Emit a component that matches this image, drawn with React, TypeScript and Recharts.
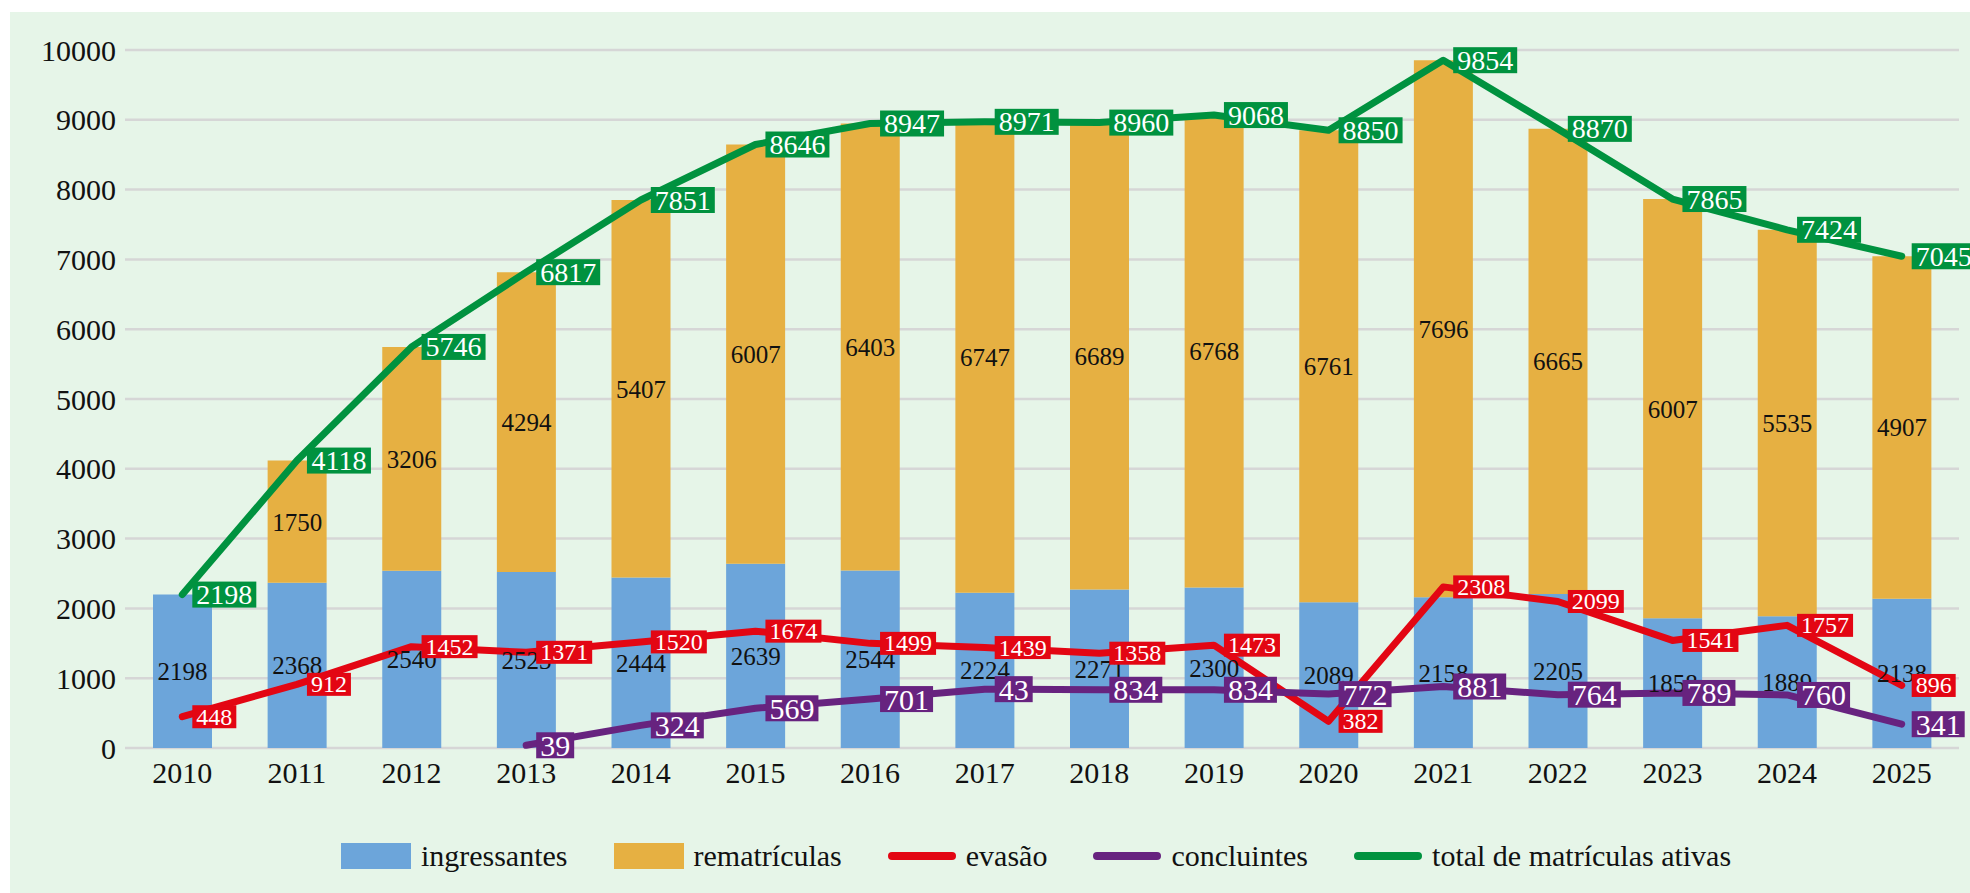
import React from 'react';
import { ComposedChart, Bar, Line, XAxis, YAxis, CartesianGrid, LabelList } from 'recharts';

const anos = ['2010', '2011', '2012', '2013', '2014', '2015', '2016', '2017', '2018', '2019', '2020', '2021', '2022', '2023', '2024', '2025'];
const ingressantes = [2198, 2368, 2540, 2523, 2444, 2639, 2544, 2224, 2271, 2300, 2089, 2158, 2205, 1858, 1889, 2138];
const rematriculas = [null, 1750, 3206, 4294, 5407, 6007, 6403, 6747, 6689, 6768, 6761, 7696, 6665, 6007, 5535, 4907];
const evasao = [448, 912, 1452, 1371, 1520, 1674, 1499, 1439, 1358, 1473, 382, 2308, 2099, 1541, 1757, 896];
const concluintes = [null, null, null, 39, 324, 569, 701, 843, 834, 834, 772, 881, 764, 789, 760, 341];
// rótulos como aparecem no gráfico original (2017 mostra só "43")
const concluintesRotulos = ['', '', '', '39', '324', '569', '701', '43', '834', '834', '772', '881', '764', '789', '760', '341'];
const totalAtivas = [2198, 4118, 5746, 6817, 7851, 8646, 8947, 8971, 8960, 9068, 8850, 9854, 8870, 7865, 7424, 7045];
const yTicks = [0, 1000, 2000, 3000, 4000, 5000, 6000, 7000, 8000, 9000, 10000];

const data = anos.map((ano, i) => ({
  ano,
  ingressantes: ingressantes[i],
  rematriculas: rematriculas[i],
  evasao: evasao[i],
  concluintes: concluintes[i],
  total: totalAtivas[i],
}));

const FONT = '"Liberation Serif", serif';
const AZUL = '#6CA5DA';
const LARANJA = '#E6B042';
const VERMELHO = '#E30613';
const ROXO = '#67237F';
const VERDE = '#00923F';

const boxLabel = (color: string, fontSize: number, h: number, textos?: string[]) => (props: any) => {
  const { x, y, value, index } = props;
  if (value == null || x == null || y == null) return null;
  const txt = textos ? textos[index] : String(value);
  if (!txt) return null;
  const pad = 4;
  const w = txt.length * fontSize * 0.5 + pad * 2;
  const left = x + 10;
  return (
    <g>
      <rect x={left} y={y - h / 2} width={w} height={h} fill={color} />
      <text x={left + w / 2} y={y} fill="#fff" fontSize={fontSize} fontFamily={FONT} textAnchor="middle" dominantBaseline="central">
        {txt}
      </text>
    </g>
  );
};

const LegendItem = ({ kind, color, label, last }: { kind: 'bar' | 'line'; color: string; label: string; last?: boolean }) => (
  <div style={{ display: 'flex', alignItems: 'center', marginRight: last ? 0 : 46 }}>
    {kind === 'bar' ? (
      <div style={{ width: 70, height: 26, background: color }} />
    ) : (
      <div style={{ width: 68, height: 8, borderRadius: 4, background: color }} />
    )}
    <span style={{ marginLeft: 10, fontSize: 30, fontFamily: FONT, color: '#111' }}>{label}</span>
  </div>
);

export default function App() {
  return (
    <div style={{ position: 'absolute', left: 0, top: 0, width: 1970, height: 893, background: '#fff', overflow: 'hidden' }}>
      <div style={{ position: 'absolute', left: 10, top: 12, width: 1960, height: 881, background: '#E6F5E8' }}>
        <ComposedChart
          width={1960}
          height={881}
          data={data}
          margin={{ top: 38, right: 11, bottom: 85, left: 0 }}
          barCategoryGap="10%"
        >
          <CartesianGrid vertical={false} stroke="#D6D6D6" strokeWidth={2.5} />
          <XAxis
            dataKey="ano"
            axisLine={false}
            tickLine={false}
            tickSize={0}
            tickMargin={14}
            height={60}
            tick={{ fill: '#111', fontSize: 30, fontFamily: FONT }}
          />
          <YAxis
            domain={[0, 10000]}
            ticks={yTicks}
            axisLine={false}
            tickLine={false}
            tickSize={0}
            tickMargin={9}
            width={115}
            interval={0}
            tick={{ fill: '#111', fontSize: 30, fontFamily: FONT }}
          />
          <Bar dataKey="ingressantes" stackId="a" fill={AZUL} barSize={59} isAnimationActive={false}>
            <LabelList dataKey="ingressantes" position="center" fill="#111" fontSize={25} fontFamily={FONT} />
          </Bar>
          <Bar dataKey="rematriculas" stackId="a" fill={LARANJA} barSize={59} isAnimationActive={false}>
            <LabelList dataKey="rematriculas" position="center" fill="#111" fontSize={25} fontFamily={FONT} />
          </Bar>
          <Line
            dataKey="evasao"
            stroke={VERMELHO}
            strokeWidth={7}
            strokeLinecap="round"
            strokeLinejoin="round"
            dot={false}
            isAnimationActive={false}
            label={boxLabel(VERMELHO, 24, 23)}
          />
          <Line
            dataKey="concluintes"
            stroke={ROXO}
            strokeWidth={7}
            strokeLinecap="round"
            strokeLinejoin="round"
            dot={false}
            isAnimationActive={false}
            label={boxLabel(ROXO, 30, 26, concluintesRotulos)}
          />
          <Line
            dataKey="total"
            stroke={VERDE}
            strokeWidth={7}
            strokeLinecap="round"
            strokeLinejoin="round"
            dot={false}
            isAnimationActive={false}
            label={boxLabel(VERDE, 28, 26)}
          />
        </ComposedChart>
        <div style={{ position: 'absolute', left: 92, width: 1868, top: 829, height: 30, display: 'flex', justifyContent: 'center', alignItems: 'center' }}>
          <LegendItem kind="bar" color={AZUL} label="ingressantes" />
          <LegendItem kind="bar" color={LARANJA} label="rematrículas" />
          <LegendItem kind="line" color={VERMELHO} label="evasão" />
          <LegendItem kind="line" color={ROXO} label="concluintes" />
          <LegendItem kind="line" color={VERDE} label="total de matrículas ativas" last />
        </div>
      </div>
    </div>
  );
}
